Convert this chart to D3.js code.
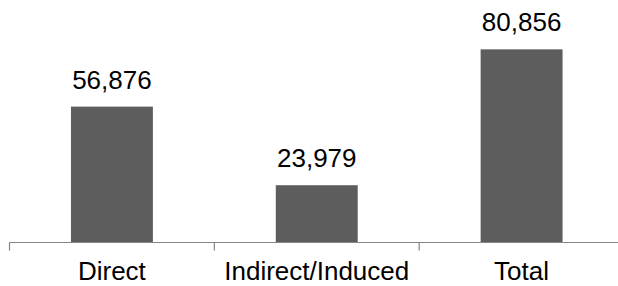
<!DOCTYPE html>
<html>
<head>
<meta charset="utf-8">
<script src="https://cdn.jsdelivr.net/npm/d3@7"></script>
<style>
  body { margin: 0; background: #fff; }
  text { font-family: "Liberation Sans", Arial, sans-serif; fill: #000; }
</style>
</head>
<body>
<svg id="chart" width="618" height="286"></svg>
<script>
const categories = ['Direct', 'Indirect/Induced', 'Total'];
const values = [56876, 23979, 80856];

const svg = d3.select('#chart');
const axisY = 242.5;
const left = 9.5, right = 624;

const x = d3.scaleBand()
  .domain(categories)
  .range([left, right])
  .paddingInner(0.6)
  .paddingOuter(0.3);

const y = d3.scaleLinear()
  .domain([0, 100000])
  .range([axisY, 3.6]);

const fmt = d3.format(',');

svg.selectAll('.bar')
  .data(values)
  .enter().append('rect')
    .attr('class', 'bar')
    .attr('x', (d, i) => x(categories[i]))
    .attr('width', x.bandwidth())
    .attr('y', d => y(d))
    .attr('height', d => axisY - y(d))
    .attr('fill', '#5d5d5d');

svg.selectAll('.val')
  .data(values)
  .enter().append('text')
    .attr('class', 'val')
    .attr('x', (d, i) => x(categories[i]) + x.bandwidth() / 2)
    .attr('y', d => y(d) - 18)
    .attr('text-anchor', 'middle')
    .style('font-size', '26px')
    .text(d => fmt(d));

// axis line and category ticks
svg.append('line')
  .attr('x1', left).attr('x2', 618)
  .attr('y1', axisY).attr('y2', axisY)
  .attr('stroke', '#868686').attr('stroke-width', 1.2);

const tickXs = d3.range(categories.length + 1).map(i => left + i * (right - left) / categories.length);
svg.selectAll('.tick')
  .data(tickXs)
  .enter().append('line')
    .attr('class', 'tick')
    .attr('x1', d => d).attr('x2', d => d)
    .attr('y1', axisY).attr('y2', axisY + 8)
    .attr('stroke', '#868686').attr('stroke-width', 1.2);

svg.selectAll('.cat')
  .data(categories)
  .enter().append('text')
    .attr('class', 'cat')
    .attr('x', d => x(d) + x.bandwidth() / 2)
    .attr('y', 279.5)
    .attr('text-anchor', 'middle')
    .style('font-size', '26px')
    .text(d => d);
</script>
</body>
</html>
